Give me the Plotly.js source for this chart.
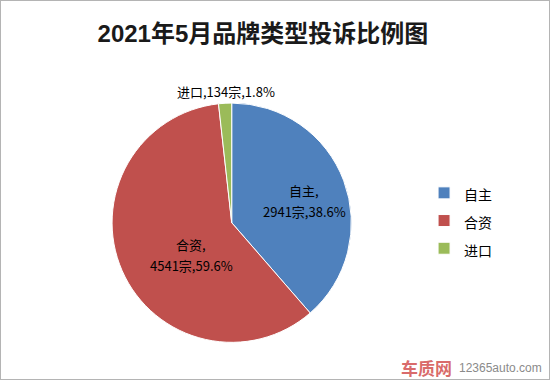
<!DOCTYPE html>
<html><head><meta charset="utf-8">
<script src="https://cdn.plot.ly/plotly-3.0.1.min.js"></script>
<style>html,body{margin:0;padding:0;background:#fff}#c{width:550px;height:380px;box-sizing:border-box;border:1px solid #b4b4b4}</style>
</head><body><div id="c"></div>
<script>
const categories = ['自主', '合资', '进口'];
const counts = [2941, 4541, 134];
const percents = ['38.6%', '59.6%', '1.8%'];
const colors = ['#4F81BD', '#C0504D', '#9BBB59'];
const font = '"Microsoft YaHei","Noto Sans CJK SC",sans-serif';

// label placement (paper coords) for the three data labels
const labelPos = [[0.553, 0.47], [0.347, 0.328], [0.41, 0.76]];

const trace = {
  type: 'pie',
  labels: categories.map(c => '<span style="font-size:14px">' + c + '</span>'),
  values: counts,
  textinfo: 'none',
  hoverinfo: 'label+value+percent',
  sort: false,
  direction: 'clockwise',
  rotation: 0,
  marker: {colors: colors, line: {color: '#ffffff', width: 1}},
  domain: {x: [0.2, 0.642], y: [0.097, 0.73]},
  automargin: false
};

const annotations = [];
categories.forEach((c, i) => {
  const [x, y] = labelPos[i];
  if (i === 2) {
    annotations.push({text: c + ',' + counts[i] + '宗,' + percents[i], xref: 'paper', yref: 'paper', x: x, y: y,
      xanchor: 'center', yanchor: 'middle', showarrow: false, font: {family: font, size: 13, color: '#000'}});
  } else {
    annotations.push({text: c + ',', xref: 'paper', yref: 'paper', x: x, y: y + 0.028,
      xanchor: 'center', yanchor: 'middle', showarrow: false, font: {family: font, size: 13, color: '#000'}});
    annotations.push({text: counts[i] + '宗,' + percents[i], xref: 'paper', yref: 'paper', x: x, y: y - 0.028,
      xanchor: 'center', yanchor: 'middle', showarrow: false, font: {family: font, size: 13, color: '#000'}});
  }
});
annotations.push(
  {text: '<b>车质网</b>', xref: 'paper', yref: 'paper', x: 0.826, y: 0.03, xanchor: 'right', yanchor: 'middle',
   showarrow: false, font: {family: font, size: 17, color: 'rgba(200,40,40,0.7)'}},
  {text: '12365auto.com', xref: 'paper', yref: 'paper', x: 0.99, y: 0.03, xanchor: 'right', yanchor: 'middle',
   showarrow: false, font: {family: 'Arial, sans-serif', size: 12, color: '#8a8a8a'}}
);

const layout = {
  width: 548, height: 378,
  margin: {l: 0, r: 0, t: 0, b: 0},
  paper_bgcolor: '#fff',
  title: {text: '<b>2021年5月品牌类型投诉比例图</b>', x: 0.478, xanchor: 'center', y: 0.915, yanchor: 'middle',
          font: {family: 'Arial,"Liberation Sans","Microsoft YaHei","Noto Sans CJK SC",sans-serif', size: 24, color: '#1a1a1a'}},
  showlegend: true,
  legend: {x: 0.772, y: 0.418, xanchor: 'left', yanchor: 'middle', font: {family: font, size: 19, color: '#000'},
           traceorder: 'normal'},
  annotations: annotations
};
Plotly.newPlot('c', [trace], layout, {displayModeBar: false, staticPlot: true});
</script></body></html>
